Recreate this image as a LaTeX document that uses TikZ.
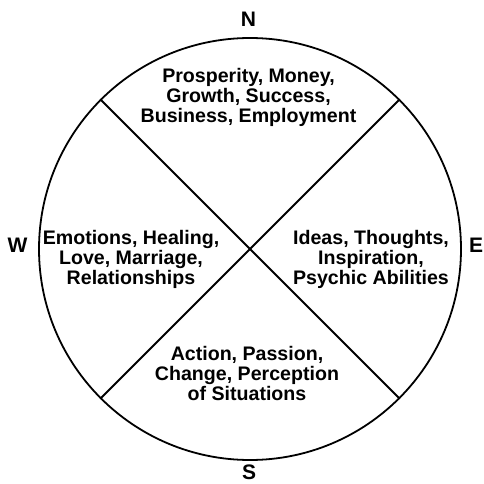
\documentclass[tikz,border=0pt]{standalone}
\usepackage{fontspec}
\setmainfont{Liberation Sans}
\begin{document}
\begin{tikzpicture}[x=1pt,y=-1pt,
  rim/.style={circle,draw=black,line width=1.8pt,inner sep=0pt,minimum size=422pt},
  divider/.style={draw=black,line width=1.8pt},
  sector/.style={align=center,inner sep=0pt,font=\fontsize{19.6}{20}\selectfont\bfseries},
  compass/.style={inner sep=0pt,font=\fontsize{21}{21}\selectfont\bfseries}]
\useasboundingbox (0,0) rectangle (484,484);
\node[rim] (c) at (250,249) {};
\draw[divider] (c.135) -- (c.-45);
\draw[divider] (c.45) -- (c.-135);
\node[sector] (north) at (248.5,97) {Prosperity, Money,\\Growth, Success,\\Business, Employment};
\node[sector] (west) at (131,259) {Emotions, Healing,\\Love, Marriage,\\Relationships};
\node[sector] (east) at (371,259) {Ideas, Thoughts,\\Inspiration,\\Psychic Abilities};
\node[sector] (south) at (247,373) {Action, Passion,\\Change, Perception\\of Situations};
\node[compass] (n) at (248.5,19) {N};
\node[compass] (w) at (17.5,245.5) {W};
\node[compass] (e) at (476,245.5) {E};
\node[compass] (s) at (249,472) {S};
\end{tikzpicture}
\end{document}
